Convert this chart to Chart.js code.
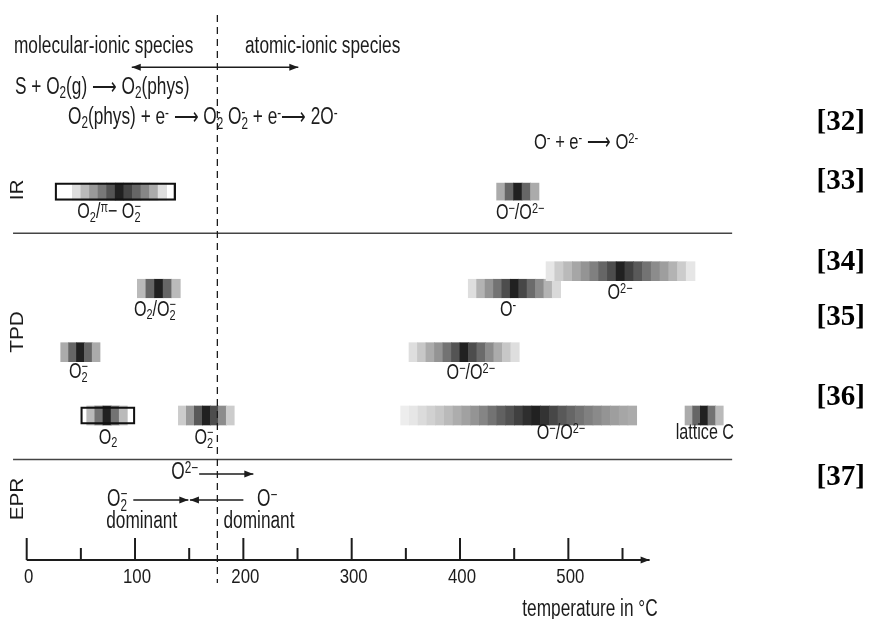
<!DOCTYPE html>
<html>
<head>
<meta charset="utf-8">
<script src="https://cdn.jsdelivr.net/npm/chart.js@4.4.0/dist/chart.umd.min.js"></script>
<style>
  html, body { margin: 0; padding: 0; background: #fff; }
  #wrap { width: 869px; height: 619px; position: relative; }
</style>
</head>
<body>
<div id="wrap"><canvas id="c"></canvas></div>
<script>
// --- temperature axis (°C) ---
const majorTicks = [0, 100, 200, 300, 400, 500];
const minorTicks = [50, 150, 250, 350, 450, 550];
const axisEnd = 575;
const boundaryTemp = 176;            // molecular / atomic border (dashed)
const speciesArrow = [97, 250.7];    // double arrow under the headers

// --- bands (IR / TPD), one entry per band ---
const bandRows = ['IR', 'IR', 'TPD1', 'TPD2', 'TPD2', 'TPD3', 'TPD3', 'TPD4', 'TPD4', 'TPD4', 'TPD4'];
const bandFrom = [42.1, 433.8, 479.4, 407.6, 102.1, 352.9, 31.4, 55.4, 140.0, 345.2, 607.7];
const bandTo   = [129.2, 472.9, 616.9, 492.9, 141.8, 454.7, 67.7, 92.9, 191.6, 563.1, 643.0];
// darkness of every cell, 0 = white, 1 = black
const bandShades = [
  [.13, .27, .4, .53, .67, .87, .73, .6, .47, .33, .13],
  [.33, .6, .87, .6, .33],
  [.1, .2, .27, .35, .42, .5, .6, .7, .87, .75, .65, .55, .45, .38, .3, .2, .1],
  [.13, .3, .42, .55, .7, .87, .72, .58, .45, .3, .15],
  [.27, .6, .87, .6, .27],
  [.13, .22, .33, .42, .55, .67, .87, .7, .58, .45, .33, .22, .13],
  [.33, .6, .87, .6, .33],
  [.27, .55, .87, .55, .27],
  [.2, .4, .65, .87, .7, .45, .2],
  [.07, .1, .14, .18, .22, .27, .32, .37, .42, .48, .55, .62, .68, .75, .82, .87,
   .8, .72, .65, .6, .55, .5, .46, .42, .38, .35, .33],
  [.33, .6, .87, .55, .27]
];
const bandLabels = ['O_{2}/^{π}− O~{2}{−}', 'O^{−}/O^{2−}', 'O^{2−}', 'O^{-}', 'O_{2}/O~{2}{−}',
                    'O^{−}/O^{2−}', 'O~{2}{−}', 'O_{2}', 'O~{2}{−}', 'O^{−}/O^{2−}', 'lattice C'];
const labelTemp = [76, 455.5, 547.7, 444.3, 118.4, 410, 47.8, 75, 163.7, 493.2, 626];

// framed bands
const frameRows = ['IR', 'TPD4'];
const frameFrom = [26.1, 49.8];
const frameTo   = [137.5, 100.0];

// EPR arrows
const eprFrom = [159.2, 98.4, 200.0];
const eprTo   = [209.2, 149.2, 150.7];

// --- layout (page units, y grows downwards) ---
const L = {
  rowY: { IR: 191.6, TPD1: 271.2, TPD2: 288.5, TPD3: 352.2, TPD4: 415.5 },
  rowH: { IR: 17, TPD1: 19, TPD2: 18.5, TPD3: 19, TPD4: 19 },
  labelDy: [20.5, 21, 22, 21.5, 21.5, 21, 20, 22.5, 22.5, 17.5, 17.5],
  sections: [233.3, 459.5], sepFrom: -12.6, sepTo: 651.2,
  dashTop: 15, dashBottom: 583,
  arrowY: 67.3, eprY: [474, 500, 500],
  axisY: 560, majorLen: 22, minorLen: 12, tickLabelY: 577
};
const ink = '#1c1c1c';
const SANS = "'Liberation Sans', Arial, sans-serif";
const SERIF = "'Liberation Serif', 'Times New Roman', serif";
const SX = 0.75; // the figure's narrow lettering

const notes = [
  { s: 'molecular-ionic species', x: 14, y: 47, fs: 23 },
  { s: 'atomic-ionic species', x: 245, y: 47, fs: 23 },
  { s: 'S + O_{2}(g) ⟶ O_{2}(phys)', x: 15, y: 88, fs: 23 },
  { s: 'O_{2}(phys) + e^{-} ⟶ O~{2}{-} O~{2}{-} + e^{-}⟶ 2O^{-}', x: 68, y: 118, fs: 23 },
  { s: 'O^{-} + e^{-} ⟶ O^{2-}', x: 534, y: 143, fs: 22 },
  { s: 'O^{2−}', x: 198, y: 472.5, fs: 23, align: 'right' },
  { s: 'O~{2}{−}', x: 107, y: 500, fs: 23 },
  { s: 'O^{−}', x: 257, y: 500, fs: 23 },
  { s: 'dominant', x: 141.7, y: 522, fs: 23, align: 'center' },
  { s: 'dominant', x: 259, y: 522, fs: 23, align: 'center' },
  { s: 'temperature in °C', x: 590, y: 610, fs: 23, align: 'center' }
];
const sideLabels = [['IR', 190], ['TPD', 332], ['EPR', 499]];
const refLabels = [['[32]', 123], ['[33]', 181.7], ['[34]', 263], ['[35]', 318], ['[36]', 398], ['[37]', 478]];

// pixel calibration of the temperature axis: 0 °C at 26.7 px, 108.33 px per 100 °C
const xMin = -26.7 / 1.0833;
const xMax = xMin + 869 / 1.0833;

function gray(d) {
  const g = Math.round(255 * (1 - d));
  return 'rgb(' + g + ',' + g + ',' + g + ')';
}

// --- datasets ---
const datasets = [];
datasets.push({
  data: frameRows.map((r, i) => ({ x: [frameFrom[i], frameTo[i]], y: L.rowY[r] })),
  backgroundColor: 'rgba(0,0,0,0)',
  borderColor: '#111',
  borderWidth: 1.6,
  borderSkipped: false,
  barThickness: 17.5,
  grouped: false
});
bandRows.forEach((r, b) => {
  const n = bandShades[b].length;
  const w = (bandTo[b] - bandFrom[b]) / n;
  datasets.push({
    data: bandShades[b].map((d, i) => ({ x: [bandFrom[b] + i * w, bandFrom[b] + (i + 1) * w], y: L.rowY[r] })),
    backgroundColor: bandShades[b].map(gray),
    borderWidth: 0,
    barThickness: L.rowH[r],
    grouped: false
  });
});

// --- text helpers ---
function parseRich(str) {
  const re = /_\{([^}]*)\}|\^\{([^}]*)\}|~\{([^}]*)\}\{([^}]*)\}/g;
  const out = [];
  let last = 0, m;
  while ((m = re.exec(str))) {
    if (m.index > last) out.push({ k: 'n', t: str.slice(last, m.index) });
    if (m[1] !== undefined) out.push({ k: 'sub', t: m[1] });
    else if (m[2] !== undefined) out.push({ k: 'sup', t: m[2] });
    else out.push({ k: 'both', t: m[3], s: m[4] });
    last = re.lastIndex;
  }
  if (last < str.length) out.push({ k: 'n', t: str.slice(last) });
  return out;
}

function drawRich(ctx, str, x, y, fs, align, sx, family) {
  const parts = parseRich(str);
  const small = fs * 0.68;
  const big = fs + 'px ' + family, little = small + 'px ' + family;
  let total = 0;
  parts.forEach(p => {
    if (p.k === 'n') { ctx.font = big; p.w = ctx.measureText(p.t).width; }
    else if (p.k === 'both') { ctx.font = little; p.w = Math.max(ctx.measureText(p.t).width, ctx.measureText(p.s).width); }
    else { ctx.font = little; p.w = ctx.measureText(p.t).width; }
    total += p.w;
  });
  ctx.save();
  ctx.translate(x, y);
  ctx.scale(sx, 1);
  ctx.textBaseline = 'middle';
  ctx.textAlign = 'left';
  let cx = align === 'center' ? -total / 2 : align === 'right' ? -total : 0;
  parts.forEach(p => {
    if (p.k === 'n') { ctx.font = big; ctx.fillText(p.t, cx, 0); }
    else if (p.k === 'sub') { ctx.font = little; ctx.fillText(p.t, cx, fs * 0.25); }
    else if (p.k === 'sup') { ctx.font = little; ctx.fillText(p.t, cx, -fs * 0.18); }
    else { ctx.font = little; ctx.fillText(p.t, cx, fs * 0.27); ctx.fillText(p.s, cx, -fs * 0.25); }
    cx += p.w;
  });
  ctx.restore();
}

function head(ctx, x, y, dir) {
  ctx.beginPath();
  ctx.moveTo(x, y);
  ctx.lineTo(x - dir * 9, y - 3.5);
  ctx.lineTo(x - dir * 9, y + 3.5);
  ctx.closePath();
  ctx.fill();
}

function hArrow(ctx, x1, x2, y, headEnd, headStart) {
  ctx.beginPath();
  ctx.moveTo(x1, y);
  ctx.lineTo(x2, y);
  ctx.stroke();
  const dir = Math.sign(x2 - x1);
  if (headEnd) head(ctx, x2, y, dir);
  if (headStart) head(ctx, x1, y, -dir);
}

// --- drawing of the annotations, all through the chart scales ---
const diagramPlugin = {
  id: 'diagram',
  afterDatasetsDraw(chart) {
    const ctx = chart.ctx;
    const px = t => chart.scales.x.getPixelForValue(t);
    const py = v => chart.scales.y.getPixelForValue(v);
    ctx.save();
    ctx.fillStyle = ink;
    ctx.strokeStyle = ink;

    // section separators
    ctx.strokeStyle = '#444';
    ctx.lineWidth = 1.6;
    L.sections.forEach(s => {
      ctx.beginPath();
      ctx.moveTo(px(L.sepFrom), py(s));
      ctx.lineTo(px(L.sepTo), py(s));
      ctx.stroke();
    });

    // dashed border line
    ctx.strokeStyle = ink;
    ctx.lineWidth = 1.3;
    ctx.setLineDash([7, 5]);
    ctx.beginPath();
    ctx.moveTo(px(boundaryTemp), py(L.dashTop));
    ctx.lineTo(px(boundaryTemp), py(L.dashBottom));
    ctx.stroke();
    ctx.setLineDash([]);

    // arrows
    ctx.lineWidth = 1.6;
    hArrow(ctx, px(speciesArrow[0]), px(speciesArrow[1]), py(L.arrowY), true, true);
    eprFrom.forEach((f, i) => hArrow(ctx, px(f), px(eprTo[i]), py(L.eprY[i]), true, false));

    // temperature axis
    ctx.lineWidth = 2;
    const ay = py(L.axisY);
    hArrow(ctx, px(0), px(axisEnd), ay, true, false);
    majorTicks.forEach(t => {
      ctx.beginPath(); ctx.moveTo(px(t), ay); ctx.lineTo(px(t), ay - L.majorLen); ctx.stroke();
    });
    minorTicks.forEach(t => {
      ctx.beginPath(); ctx.moveTo(px(t), ay); ctx.lineTo(px(t), ay - L.minorLen); ctx.stroke();
    });
    majorTicks.forEach(t => drawRich(ctx, String(t), px(t) + 2, py(L.tickLabelY), 21, 'center', 0.8, SANS));

    // band labels
    bandLabels.forEach((s, i) => {
      drawRich(ctx, s, px(labelTemp[i]), py(L.rowY[bandRows[i]] + L.labelDy[i]), 21.5, 'center', SX, SANS);
    });

    // free notes
    notes.forEach(n => drawRich(ctx, n.s, n.x, n.y, n.fs, n.align || 'left', SX, SANS));

    // technique names, rotated
    sideLabels.forEach(([s, y]) => {
      ctx.save();
      ctx.translate(18.5, y);
      ctx.rotate(-Math.PI / 2);
      ctx.scale(1.15, 1);
      ctx.font = '18px ' + SANS;
      ctx.textAlign = 'center';
      ctx.textBaseline = 'middle';
      ctx.fillText(s, 0, 0);
      ctx.restore();
    });

    // literature references
    ctx.font = 'bold 29px ' + SERIF;
    ctx.textAlign = 'left';
    ctx.textBaseline = 'middle';
    ctx.fillStyle = '#000';
    refLabels.forEach(([s, y]) => ctx.fillText(s, 816.5, y));

    ctx.restore();
  }
};

new Chart(document.getElementById('c'), {
  type: 'bar',
  data: { datasets },
  options: {
    indexAxis: 'y',
    responsive: true,
    maintainAspectRatio: false,
    animation: false,
    layout: { padding: 0 },
    plugins: { legend: { display: false }, tooltip: { enabled: false } },
    scales: {
      x: { type: 'linear', min: xMin, max: xMax, display: false },
      y: { type: 'linear', min: 0, max: 619, reverse: true, display: false, offset: false }
    }
  },
  plugins: [diagramPlugin]
});
</script>
</body>
</html>
